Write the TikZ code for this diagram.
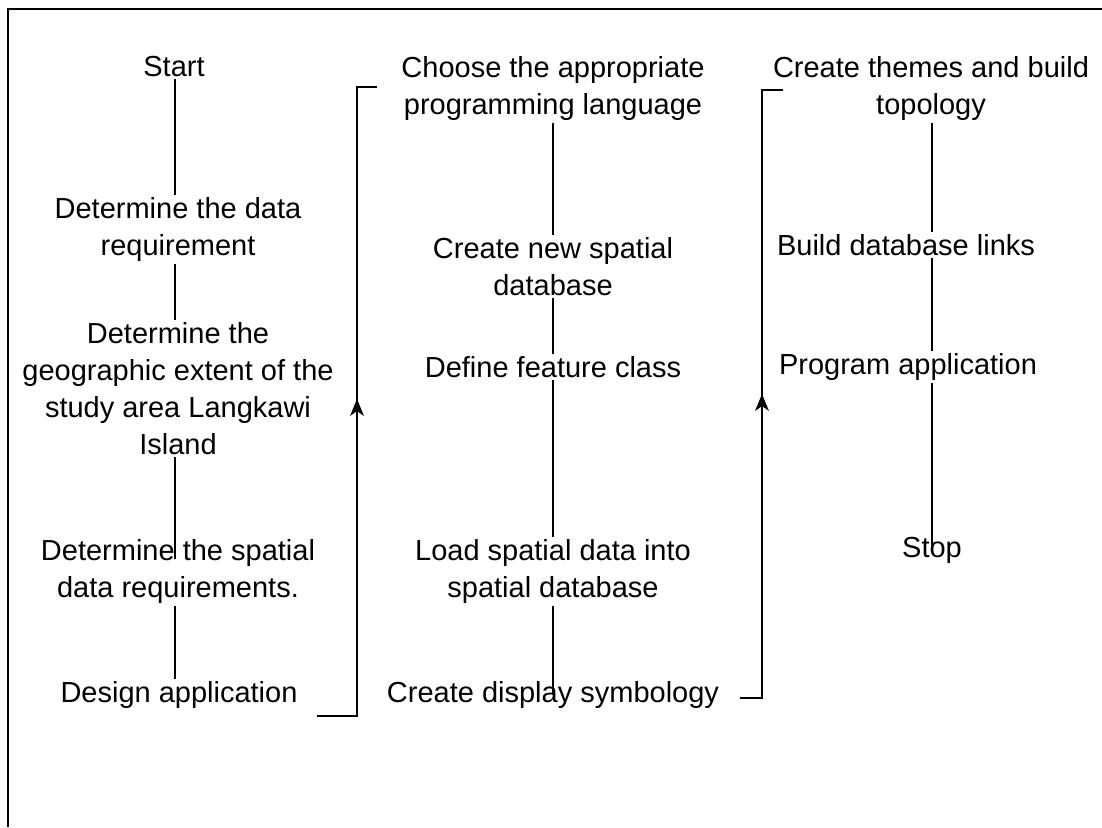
\documentclass[tikz,border=0pt]{standalone}
\usepackage{fontspec}
\setmainfont{Liberation Sans}
\begin{document}
\begin{tikzpicture}[x=1pt,y=-1pt,
  lbl/.style={align=center, inner sep=2pt, font=\fontsize{29}{37}\selectfont},
  link/.style={line width=1.8pt},
  brk/.style={line width=2.2pt},
  tip/.style={fill=black, line join=miter}
]
\useasboundingbox (0,0) rectangle (1102,827);
\draw[line width=2pt] (8,827) -- (8,9) -- (1102,9);

% column x references
\coordinate (xa) at (175,0);
\coordinate (xb) at (553,0);
\coordinate (xc) at (932,0);

% column 1
\node[lbl] (start)  at (174,67)    {Start};
\node[lbl] (req)    at (178,229.5) {Determine the data\\requirement};
\node[lbl] (geo)    at (178,388.5) {Determine the\\geographic extent of the\\study area Langkawi\\Island};
\node[lbl] (spat)   at (178,571.5) {Determine the spatial\\data requirements.};
\node[lbl] (design) at (179,695)   {Design application};

% column 2
\node[lbl] (lang)  at (553,88.5)  {Choose the appropriate\\programming language};
\node[lbl] (newdb) at (553,266.5) {Create new spatial\\database};
\node[lbl] (feat)  at (553,367)   {Define feature class};
\node[lbl] (load)  at (553,571.5) {Load spatial data into\\spatial database};
\node[lbl] (symb)  at (553,695)   {Create display symbology};

% column 3
\node[lbl] (topo)  at (931,88.5) {Create themes and build\\topology};
\node[lbl] (links) at (906,245)  {Build database links};
\node[lbl] (prog)  at (908,367)  {Program application};
\node[lbl] (stop)  at (932,550)  {Stop};

% connectors column 1
\draw[link] (start.south -| xa) -- (req.north -| xa);
\draw[link] (req.south -| xa) -- (geo.north -| xa);
\draw[link] (geo.south -| xa) -- ([yshift=-22pt]spat.north -| xa);
\draw[link] (spat.south -| xa) -- (design.north -| xa);

% connectors column 2
\draw[link] (lang.south -| xb) -- (newdb.north -| xb);
\draw[link] (newdb.south -| xb) -- (feat.north -| xb);
\draw[link] (feat.south -| xb) -- (load.north -| xb);
\draw[link] (load.south -| xb) -- ([yshift=-16pt]symb.north -| xb);

% connectors column 3
\draw[link] (topo.south -| xc) -- (links.north -| xc);
\draw[link] (links.south -| xc) -- (prog.north -| xc);
\draw[link] (prog.south -| xc) -- ([yshift=-14pt]stop.north -| xc);

% brackets
\coordinate (b1a) at (317,716);
\coordinate (b1b) at (357,716);
\coordinate (b1m) at (357,399);
\coordinate (b1c) at (357,87);
\coordinate (b1d) at (377,87);
\draw[brk] (b1a) -- (b1b) -- (b1c) -- (b1d);
\fill[tip] (b1m) -- ++(-7,17) -- ++(7,-5) -- ++(7,5) -- cycle;

\coordinate (b2a) at (740,698);
\coordinate (b2b) at (762,698);
\coordinate (b2m) at (762,394);
\coordinate (b2c) at (762,90);
\coordinate (b2d) at (783,90);
\draw[brk] (b2a) -- (b2b) -- (b2c) -- (b2d);
\fill[tip] (b2m) -- ++(-7,17) -- ++(7,-5) -- ++(7,5) -- cycle;
\end{tikzpicture}
\end{document}
